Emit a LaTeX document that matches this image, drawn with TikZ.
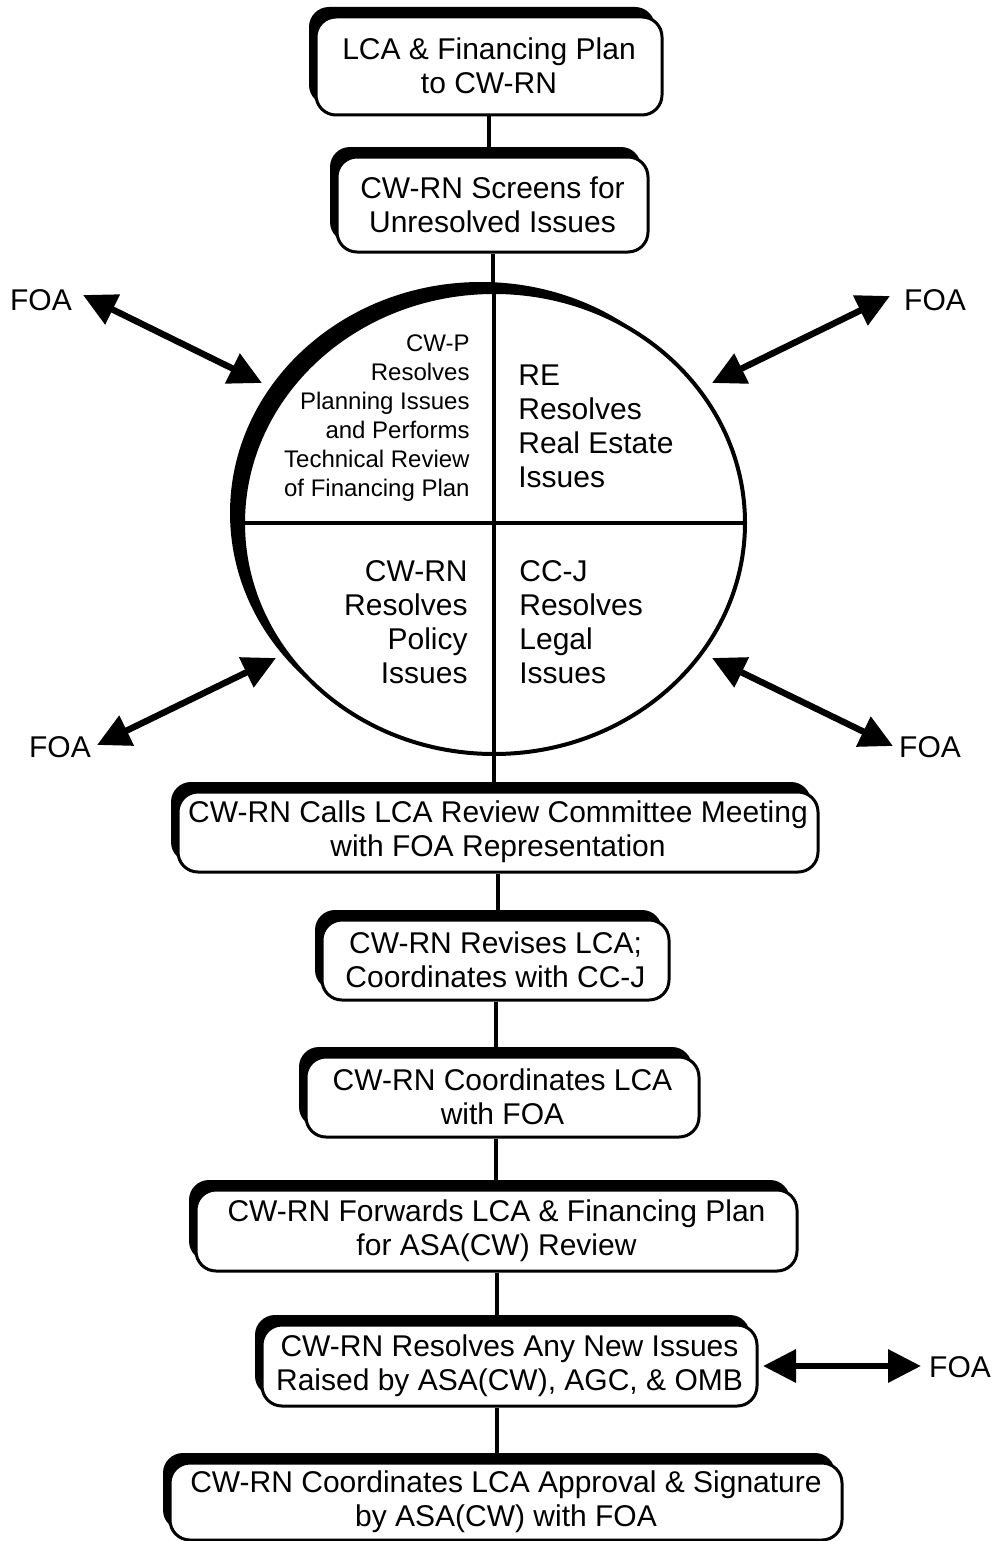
\documentclass[tikz,border=0pt]{standalone}
\usepackage{fontspec}
\setmainfont{Liberation Sans}
\usetikzlibrary{shapes.geometric,shadows,arrows.meta}
\begin{document}
\begin{tikzpicture}[x=0.5pt,y=-0.5pt,
  bigtxt/.style={font=\fontsize{15pt}{17pt}\selectfont},
  smalltxt/.style={font=\fontsize{12pt}{14.5pt}\selectfont},
  stepbox/.style={draw, line width=1.5pt, fill=white, rounded corners=10pt,
    align=center, inner sep=2pt, bigtxt,
    drop shadow={shadow xshift=-3.5pt, shadow yshift=5pt, fill=black, opacity=1}},
  conn/.style={line width=2pt},
  foaarrow/.style={line width=3.2pt,
    {Triangle[length=16.5pt,width=16pt]}-{Triangle[length=16.5pt,width=16pt]}},
  foalbl/.style={bigtxt, inner sep=0pt}
]
\useasboundingbox (0,0) rectangle (993,1541);

% boxes
\node[stepbox, minimum width=173pt, minimum height=49pt] (b1) at (489,66)
  {LCA \& Financing Plan\\to CW-RN};
\node[stepbox, minimum width=155.5pt, minimum height=47.5pt] (b2) at (492.5,204.5)
  {CW-RN Screens for\\Unresolved Issues};

% circle
\node[ellipse, draw, line width=2pt, fill=white, minimum width=251pt, minimum height=231pt,
  inner sep=0pt,
  drop shadow={shadow xshift=-6.5pt, shadow yshift=5pt, fill=black, opacity=1}] (circ) at (494,523) {};

\node[stepbox, minimum width=320pt, minimum height=40pt] (b3) at (498,832)
  {CW-RN Calls LCA Review Committee Meeting\\with FOA Representation};
\node[stepbox, minimum width=173.5pt, minimum height=40pt] (b4) at (495.5,960)
  {CW-RN Revises LCA;\\Coordinates with CC-J};
\node[stepbox, minimum width=196.5pt, minimum height=40pt] (b5) at (502.5,1097)
  {CW-RN Coordinates LCA\\with FOA};
\node[stepbox, minimum width=300.5pt, minimum height=40.5pt] (b6) at (496.5,1230.5)
  {CW-RN Forwards LCA \& Financing Plan\\for ASA(CW) Review};
\node[stepbox, minimum width=247.5pt, minimum height=40.5pt] (b7) at (509.5,1365.5)
  {CW-RN Resolves Any New Issues\\Raised by ASA(CW), AGC, \& OMB};
\node[stepbox, minimum width=336pt, minimum height=38.5pt] (b8) at (506,1501.5)
  {CW-RN Coordinates LCA Approval \& Signature\\by ASA(CW) with FOA};

% connectors
\draw[conn] (b1.south) -- (b1.south |- b2.north);
\draw[conn] (b2.south) -- (b2.south |- circ.north);
\draw[conn] (circ.north) -- (circ.south);
\draw[conn] (circ.west) -- (circ.east);
\draw[conn] (circ.south) -- (circ.south |- b3.north);
\draw[conn] (b3.south) -- (b3.south |- b4.north);
\draw[conn] (b4.south) -- (b4.south |- b5.north);
\draw[conn] (b5.south -| b4.south) -- (b4.south |- b6.north);
\draw[conn] (b6.south) -- (b6.south |- b7.north);
\draw[conn] (b7.south -| b6.south) -- (b6.south |- b8.north);

% quadrant texts
\node[smalltxt, align=right, anchor=east, inner sep=0pt] (qtl) at (470,418)
  {CW-P\\Resolves\\Planning Issues\\and Performs\\Technical Review\\of Financing Plan};
\node[bigtxt, align=left, anchor=west, inner sep=0pt] (qtr) at (518,426)
  {RE\\Resolves\\Real Estate\\Issues};
\node[bigtxt, align=right, anchor=east, inner sep=0pt] (qbl) at (468,622)
  {CW-RN\\Resolves\\Policy\\Issues};
\node[bigtxt, align=left, anchor=west, inner sep=0pt] (qbr) at (519,622)
  {CC-J\\Resolves\\Legal\\Issues};

% FOA labels
\node[foalbl] (ftl) at (41,300) {FOA};
\node[foalbl] (ftr) at (935,300) {FOA};
\node[foalbl] (fbl) at (60,747) {FOA};
\node[foalbl] (fbr) at (930,747) {FOA};
\node[foalbl] (fr) at (960,1367) {FOA};

% arrow end points
\coordinate (atl1) at (83,295);  \coordinate (atl2) at (262,383);
\coordinate (atr1) at (890,296); \coordinate (atr2) at (712,383);
\coordinate (abl1) at (97,745);  \coordinate (abl2) at (276,658);
\coordinate (abr1) at (893,746); \coordinate (abr2) at (712,658);
\coordinate (ar1) at (763,1366); \coordinate (ar2) at (921,1366);

\draw[foaarrow] (atl1) -- (atl2);
\draw[foaarrow] (atr1) -- (atr2);
\draw[foaarrow] (abl1) -- (abl2);
\draw[foaarrow] (abr1) -- (abr2);
\draw[foaarrow] (ar1) -- (ar2);
\end{tikzpicture}
\end{document}
